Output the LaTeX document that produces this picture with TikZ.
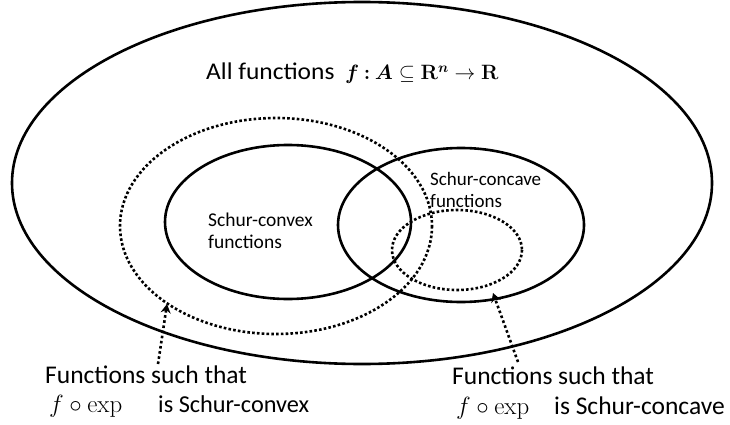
\documentclass[tikz,border=0pt]{standalone}
\usepackage{amsmath}
\usepackage[no-math]{fontspec}
\setmainfont{Carlito}
\usetikzlibrary{arrows.meta}
\begin{document}
\begin{tikzpicture}[x=1pt,y=-1pt,
  solidset/.style={line width=2.6pt},
  dotset/.style={line width=2.6pt,dash pattern=on 2.6pt off 2.2pt},
  ptr/.style={line width=2.6pt,dash pattern=on 2.6pt off 2.6pt,-{Stealth[length=9pt,width=10pt,inset=3pt]}},
  txt/.style={inner sep=0pt,anchor=base west},
  sz/.style={font=\fontsize{#1}{#1}\selectfont}]
\useasboundingbox (0,0) rectangle (730,425);
% outer
\draw[solidset] (362,183) ellipse [x radius=350, y radius=181];
\node[txt,sz=24,xscale=1.06] (allt) at (206,80) {All functions};
\node[txt,sz=20] (allm) at (345,80) {$\boldsymbol{f}\mathbin{\boldsymbol{:}}\boldsymbol{A}\subseteq\mathbf{R}^{\boldsymbol{n}}\to\mathbf{R}$};
% dotted big
\draw[dotset] (276,226) ellipse [x radius=156, y radius=108];
% Schur-convex
\draw[solidset] (288,222) ellipse [x radius=123, y radius=77];
% Schur-concave
\draw[solidset] (461,225) ellipse [x radius=123, y radius=77];
% small dotted
\draw[dotset] (457,250) ellipse [x radius=65, y radius=40];
\node[txt,sz=19.5] (cvx1) at (208,226) {Schur-convex};
\node[txt,sz=19.5] (cvx2) at (208,248) {functions};
\node[txt,sz=19] (ccv1) at (430,185) {Schur-concave};
\node[txt,sz=19] (ccv2) at (430,207) {functions};
% bottom labels
\node[txt,sz=25.5] (l1) at (45,383) {Functions such that};
\node[txt,sz=25.5] (l2m) at (49,412) {$f\circ\exp$};
\node[txt,sz=24.3] (l2) at (158,412) {is Schur-convex};
\node[txt,sz=25.5] (r1) at (452,384) {Functions such that};
\node[txt,sz=25.5] (r2m) at (456,414) {$f\circ\exp$};
\node[txt,sz=25.5] (r2) at (554,414) {is Schur-concave};
\coordinate (lt) at (167,304);
\coordinate (lb) at (158,364);
\coordinate (rt) at (493,293);
\coordinate (rb) at (518,362);
\draw[ptr] (lb) -- (lt);
\draw[ptr] (rb) -- (rt);
\end{tikzpicture}
\end{document}
